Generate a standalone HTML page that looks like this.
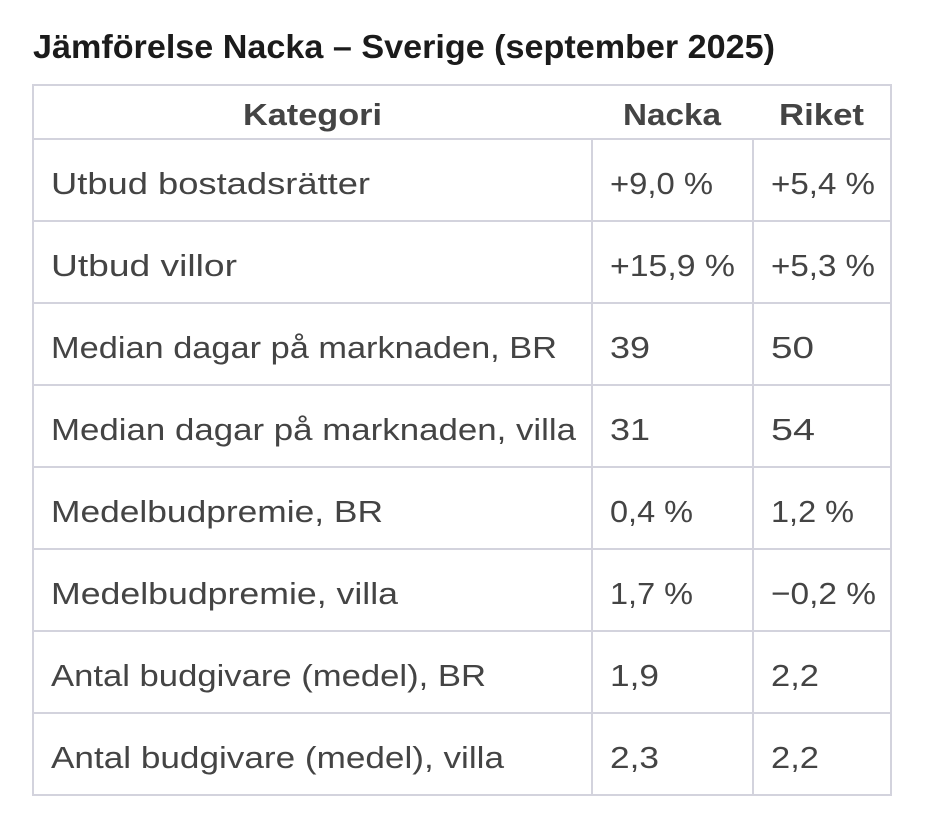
<!DOCTYPE html>
<html><head><meta charset="utf-8"><style>html,body{margin:0;padding:0;background:#fff;}svg{display:block}</style></head>
<body>
<svg width="942" height="830" xmlns="http://www.w3.org/2000/svg" font-family="Liberation Sans, sans-serif">
<rect width="942" height="830" fill="#fff"/>
<text x="33" y="58" font-size="33" font-weight="bold" fill="#1b1b1b" textLength="742" lengthAdjust="spacingAndGlyphs">Jämförelse Nacka – Sverige (september 2025)</text>
<g stroke="#d3d3dd" stroke-width="2" fill="none">
<rect x="33" y="85" width="858" height="710"/>
<line x1="33" y1="139" x2="891" y2="139"/>
<line x1="33" y1="221" x2="891" y2="221"/>
<line x1="33" y1="303" x2="891" y2="303"/>
<line x1="33" y1="385" x2="891" y2="385"/>
<line x1="33" y1="467" x2="891" y2="467"/>
<line x1="33" y1="549" x2="891" y2="549"/>
<line x1="33" y1="631" x2="891" y2="631"/>
<line x1="33" y1="713" x2="891" y2="713"/>
<line x1="592" y1="139" x2="592" y2="795"/>
<line x1="753" y1="139" x2="753" y2="795"/>
</g>
<g font-size="31" font-weight="bold" fill="#444">
<text x="243" y="125" textLength="139" lengthAdjust="spacingAndGlyphs">Kategori</text>
<text x="623" y="125" textLength="98" lengthAdjust="spacingAndGlyphs">Nacka</text>
<text x="779" y="125" textLength="85" lengthAdjust="spacingAndGlyphs">Riket</text>
</g>
<g font-size="31" fill="#444">
<text x="51" y="194" textLength="319" lengthAdjust="spacingAndGlyphs">Utbud bostadsrätter</text>
<text x="610" y="194" textLength="103" lengthAdjust="spacingAndGlyphs">+9,0 %</text>
<text x="771" y="194" textLength="104" lengthAdjust="spacingAndGlyphs">+5,4 %</text>
<text x="51" y="276" textLength="186" lengthAdjust="spacingAndGlyphs">Utbud villor</text>
<text x="610" y="276" textLength="125" lengthAdjust="spacingAndGlyphs">+15,9 %</text>
<text x="771" y="276" textLength="104" lengthAdjust="spacingAndGlyphs">+5,3 %</text>
<text x="51" y="358" textLength="506" lengthAdjust="spacingAndGlyphs">Median dagar på marknaden, BR</text>
<text x="610" y="358" textLength="40" lengthAdjust="spacingAndGlyphs">39</text>
<text x="771" y="358" textLength="43" lengthAdjust="spacingAndGlyphs">50</text>
<text x="51" y="440" textLength="525" lengthAdjust="spacingAndGlyphs">Median dagar på marknaden, villa</text>
<text x="610" y="440" textLength="40" lengthAdjust="spacingAndGlyphs">31</text>
<text x="771" y="440" textLength="44" lengthAdjust="spacingAndGlyphs">54</text>
<text x="51" y="522" textLength="332" lengthAdjust="spacingAndGlyphs">Medelbudpremie, BR</text>
<text x="610" y="522" textLength="83" lengthAdjust="spacingAndGlyphs">0,4 %</text>
<text x="771" y="522" textLength="83" lengthAdjust="spacingAndGlyphs">1,2 %</text>
<text x="51" y="604" textLength="347" lengthAdjust="spacingAndGlyphs">Medelbudpremie, villa</text>
<text x="610" y="604" textLength="83" lengthAdjust="spacingAndGlyphs">1,7 %</text>
<text x="771" y="604" textLength="105" lengthAdjust="spacingAndGlyphs">−0,2 %</text>
<text x="51" y="686" textLength="435" lengthAdjust="spacingAndGlyphs">Antal budgivare (medel), BR</text>
<text x="610" y="686" textLength="49" lengthAdjust="spacingAndGlyphs">1,9</text>
<text x="771" y="686" textLength="48" lengthAdjust="spacingAndGlyphs">2,2</text>
<text x="51" y="768" textLength="453" lengthAdjust="spacingAndGlyphs">Antal budgivare (medel), villa</text>
<text x="610" y="768" textLength="49" lengthAdjust="spacingAndGlyphs">2,3</text>
<text x="771" y="768" textLength="48" lengthAdjust="spacingAndGlyphs">2,2</text>
</g>
</svg>
</body></html>
